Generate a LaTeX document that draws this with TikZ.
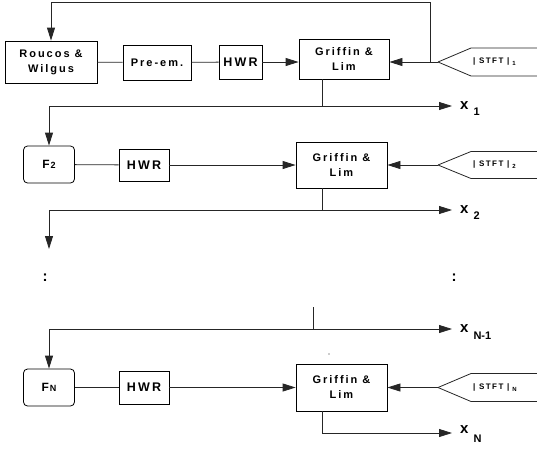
\documentclass[tikz,border=0pt]{standalone}
\usepackage{fontspec}
\setmainfont{Liberation Sans}
\newfontfamily\ls{Liberation Sans}[LetterSpace=18]
\usetikzlibrary{arrows.meta}
\begin{document}
\begin{tikzpicture}[x=1pt,y=-1pt,
  ln/.style={line width=0.8pt,draw=black!85},
  arr/.style={ln,-{Triangle[length=13pt,width=8pt]}},
  box/.style={draw=black,line width=0.8pt,align=center,inner sep=0pt,
    font=\ls\bfseries\fontsize{11}{15}\selectfont},
  hwr/.style={box,font=\ls\bfseries\fontsize{12.5}{14}\selectfont},
  fbox/.style={box,rounded corners=4pt,minimum width=51pt,minimum height=37pt,
    font=\ls\bfseries\fontsize{12}{13}\selectfont},
  stft/.style={anchor=west,inner sep=0pt,font=\ls\bfseries\fontsize{8}{9}\selectfont},
  xl/.style={anchor=base west,inner sep=0pt,font=\bfseries\fontsize{15}{16}\selectfont},
  dots/.style={inner sep=0pt,font=\bfseries\fontsize{15}{15}\selectfont}
]
\useasboundingbox (0,0) rectangle (537,453);

% ---------- row 1 ----------
\node[box,minimum width=92pt,minimum height=42pt] (rw) at (51,62) {Roucos \&\\Wilgus};
\node[box,minimum width=68pt,minimum height=35pt] (pre) at (157,62.5) {Pre-em.};
\node[hwr,minimum width=43pt,minimum height=34pt] (h1) at (240.5,62) {HWR};
\node[box,minimum width=90pt,minimum height=40pt] (g1) at (344,59) {Griffin \&\\Lim};
\coordinate (s1) at (438,62);
\draw[ln] (s1) -- ++(33,-14) -- ++(80,0);
\draw[ln] (s1) -- ++(33,14) -- ++(80,0);
\node[stft] (t1) at (473,62) {| STFT |\hspace{3pt}\raisebox{-2pt}{\fontsize{6}{6}\selectfont 1}};
\draw[ln] (rw) -- (pre);
\draw[ln] (pre) -- (h1);
\draw[arr] (h1.east) -- (h1.east -| g1.west);
\draw[arr] (s1) -- (s1 -| g1.east);
\coordinate (j1) at (430,62);
\coordinate (fb) at (51,2);
\draw[arr] (j1) -- (j1 |- fb) -- (fb) -- (rw.north);
\coordinate (b1) at (322,106);
\coordinate (l1) at (49,106);
\coordinate (e1) at (452,106);
\draw[ln] (b1 |- g1.south) -- (b1);
\draw[arr] (l1) -- (e1);
\node[xl] (x1) at (460,109) {x\hspace{5pt}\raisebox{-6pt}{\fontsize{11}{11}\selectfont 1}};

% ---------- row 2 ----------
\node[fbox] (f2) at (49,164.5) {F\hspace{1pt}{\fontsize{9}{10}\selectfont 2}};
\node[hwr,minimum width=50pt,minimum height=32pt] (h2) at (144,165) {HWR};
\node[box,minimum width=91pt,minimum height=46pt] (g2) at (341.5,165) {Griffin \&\\Lim};
\coordinate (s2) at (438,165);
\draw[ln] (s2) -- ++(33,-13.5) -- ++(80,0);
\draw[ln] (s2) -- ++(33,13.5) -- ++(80,0);
\node[stft] (t2) at (473,165) {| STFT |\hspace{3pt}\raisebox{-2pt}{\fontsize{6}{6}\selectfont 2}};
\draw[arr] (l1) -- (f2.north);
\draw[ln] (f2) -- (h2);
\draw[arr] (h2) -- (g2);
\draw[arr] (s2) -- (g2.east);
\coordinate (b2) at (322,210);
\coordinate (l2) at (49,210);
\coordinate (e2) at (452,210);
\draw[ln] (b2 |- g2.south) -- (b2);
\draw[arr] (l2) -- (e2);
\node[xl] (x2) at (460,213) {x\hspace{5pt}\raisebox{-6pt}{\fontsize{11}{11}\selectfont 2}};
\coordinate (d2) at (49,249);
\draw[arr] (l2) -- (d2);

% ---------- dots ----------
\node[dots] (dl) at (45,278) {:};
\node[dots] (dr) at (454,278) {:};

% ---------- row N-1 ----------
\coordinate (tk) at (313,307);
\coordinate (lm) at (49,329);
\coordinate (em) at (452,329);
\draw[ln] (tk) -- (tk |- lm);
\draw[arr] (lm) -- (em);
\node[xl] (xm) at (460,332) {x\hspace{5pt}\raisebox{-7pt}{\fontsize{11}{11}\selectfont N-1}};
\fill[black!85] (329,354) circle (0.7pt);

% ---------- row N ----------
\node[fbox] (fN) at (49,387.5) {F\hspace{1pt}{\fontsize{9}{10}\selectfont N}};
\node[hwr,minimum width=50pt,minimum height=33pt] (hN) at (144,387.5) {HWR};
\node[box,minimum width=91pt,minimum height=47pt] (gN) at (341.5,387.5) {Griffin \&\\Lim};
\coordinate (sN) at (438,387.5);
\draw[ln] (sN) -- ++(33,-14) -- ++(80,0);
\draw[ln] (sN) -- ++(33,14) -- ++(80,0);
\node[stft] (tN) at (473,387.5) {| STFT |\hspace{3pt}\raisebox{-2pt}{\fontsize{6}{6}\selectfont N}};
\draw[arr] (lm) -- (fN.north);
\draw[ln] (fN) -- (hN);
\draw[arr] (hN) -- (gN);
\draw[arr] (sN) -- (gN.east);
\coordinate (bN) at (322,433);
\coordinate (eN) at (452,433);
\draw[arr] (bN |- gN.south) -- (bN) -- (eN);
\node[xl] (xN) at (460,433) {x\hspace{5pt}\raisebox{-9pt}{\fontsize{11}{11}\selectfont N}};
\end{tikzpicture}
\end{document}
